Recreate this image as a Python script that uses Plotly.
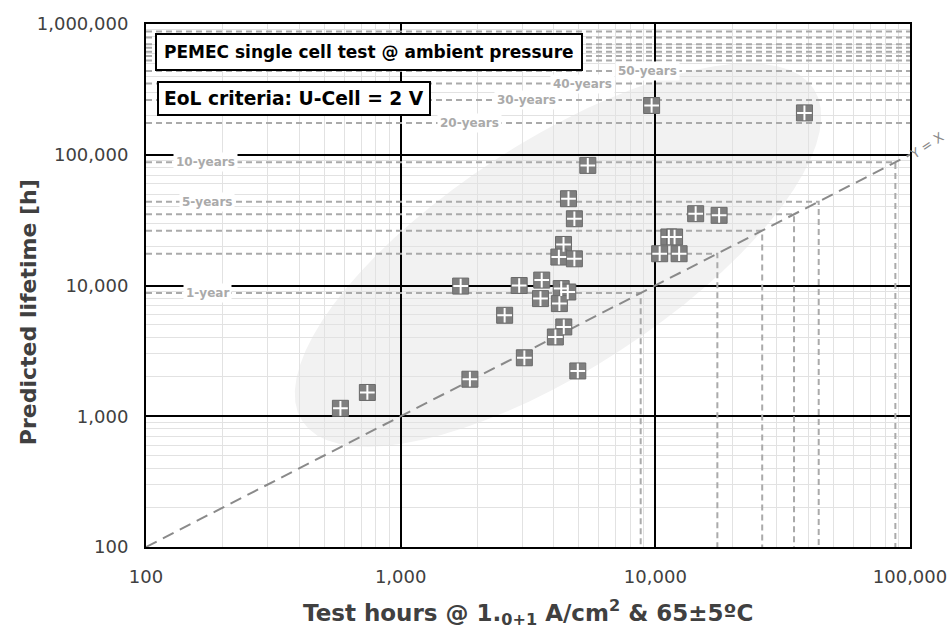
import math
import plotly.graph_objects as go

# Test results: hours on test vs. extrapolated lifetime at the 2 V end-of-life limit
test_hours = [580, 740, 1720, 1870, 2560, 2920, 3060, 3580, 3540, 4360, 4180, 4810,
              4270, 4530, 4200, 4370, 4050, 4960, 4560, 4810, 5430, 9670, 38500,
              14400, 17800, 11300, 11900, 10400, 12400]
predicted_lifetime = [1150, 1520, 9900, 1920, 5920, 10000, 2800, 11000, 7940, 20600, 16500, 16000,
                      9470, 8920, 7270, 4820, 4040, 2220, 46100, 32400, 82900, 238000, 209000,
                      35400, 34400, 23500, 23500, 17500, 17500]

# Lifetime reference levels, in years of continuous operation
ref_years = [1, 2, 3, 4, 5, 10, 20, 30, 40, 50, 60, 65, 70, 75, 80, 90, 100]
year_labels = {1: "1-year", 5: "5-years", 10: "10-years", 20: "20-years",
               30: "30-years", 40: "40-years", 50: "50-years"}
HOURS_PER_YEAR = 8760

x_ticks = [100, 1000, 10000, 100000]
x_tick_text = ["100", "1,000", "10,000", "100,000"]
y_ticks = [100, 1000, 10000, 100000, 1000000]
y_tick_text = ["100", "1,000", "10,000", "100,000", "1,000,000"]

X_MIN, X_MAX = 100, 100000
Y_MIN = 100

FONT = "DejaVu Sans"
TEXT_DARK = "#404040"
REF_GREY = "#aaaaaa"

# where each year label sits along the x axis (log10 of hours)
label_x = {1: 2.24, 5: 2.24, 10: 2.235, 20: 3.271, 30: 3.494, 40: 3.714, 50: 3.969}

fig = go.Figure()

# Reference lifetime lines: horizontal to the Y = X diagonal, then down to the x axis
ref_x, ref_y = [], []
for yr in ref_years:
    h = yr * HOURS_PER_YEAR
    if h < X_MAX:
        ref_x += [X_MIN, h, h, None]
        ref_y += [h, h, Y_MIN, None]
    else:
        ref_x += [X_MIN, X_MAX, None]
        ref_y += [h, h, None]
fig.add_trace(go.Scatter(x=ref_x, y=ref_y, mode="lines", hoverinfo="skip",
                         line=dict(color=REF_GREY, width=2, dash="6px,4px"),
                         showlegend=False))

# Y = X diagonal
fig.add_trace(go.Scatter(x=[X_MIN, X_MAX], y=[X_MIN, X_MAX], mode="lines", hoverinfo="skip",
                         line=dict(color="#8a8a8a", width=2, dash="12px,7px"),
                         showlegend=False))

# Data markers: grey square with a white cross
fig.add_trace(go.Scatter(x=test_hours, y=predicted_lifetime, mode="markers", showlegend=False,
                         marker=dict(symbol="square", size=16, color="#7f7f7f",
                                     line=dict(color="#6a6a6a", width=1))))
fig.add_trace(go.Scatter(x=test_hours, y=predicted_lifetime, mode="markers", showlegend=False,
                         hoverinfo="skip",
                         marker=dict(symbol="cross-thin", size=10.5,
                                     line=dict(color="white", width=2))))

# Shaded envelope around the data cloud (drawn beneath the grid)
PLOT_W, PLOT_H = 764, 523
cx, cy = 412, 292          # centre, px from the plot's lower-left corner
ra, rb = 305, 114          # semi-axes, px
ang = math.radians(33)
pts = []
for i in range(73):
    t = 2 * math.pi * i / 72
    px = cx + ra * math.cos(t) * math.cos(ang) - rb * math.sin(t) * math.sin(ang)
    py = cy + ra * math.cos(t) * math.sin(ang) + rb * math.sin(t) * math.cos(ang)
    pts.append(f"{px / PLOT_W:.4f},{py / PLOT_H:.4f}")
fig.add_shape(type="path", path="M" + " L".join(pts) + " Z", xref="x domain", yref="y domain",
              fillcolor="#f2f2f2", line=dict(width=0), layer="below")

annotations = []
for yr, txt in year_labels.items():
    annotations.append(dict(x=label_x[yr], y=math.log10(yr * HOURS_PER_YEAR), xref="x", yref="y",
                            xanchor="center", yanchor="middle",
                            text=f"<b>{txt}</b>", showarrow=False, bgcolor="white", borderpad=2,
                            font=dict(family=FONT, size=12, color=REF_GREY)))

annotations += [
    dict(x=9 / PLOT_W, y=(PLOT_H - 9) / PLOT_H, xref="paper", yref="paper",
         xanchor="left", yanchor="top", showarrow=False,
         text="<b>PEMEC single cell test @ ambient pressure</b>",
         bgcolor="white", bordercolor="black", borderwidth=2, borderpad=7,
         font=dict(family=FONT, size=17, color="black")),
    dict(x=11 / PLOT_W, y=(PLOT_H - 57) / PLOT_H, xref="paper", yref="paper",
         xanchor="left", yanchor="top", showarrow=False,
         text="<b>EoL criteria: U-Cell = 2 V</b>",
         bgcolor="white", bordercolor="black", borderwidth=2, borderpad=5,
         font=dict(family=FONT, size=18.7, color="black")),
    dict(x=1.022, y=0.768, xref="paper", yref="paper", xanchor="center", yanchor="middle",
         showarrow=False, text="Y = X",
         textangle=-33, font=dict(family=FONT, size=13, color="#8a8a8a")),
    dict(x=0.5, y=-0.126, xref="paper", yref="paper", xanchor="center", yanchor="middle",
         showarrow=False,
         text="<b>Test hours @ 1.<sub>0+1</sub> A/cm<sup>2</sup> & 65±5ºC</b>",
         font=dict(family=FONT, size=23, color=TEXT_DARK)),
    dict(x=-0.1545, y=0.449, xref="paper", yref="paper", xanchor="center", yanchor="middle",
         showarrow=False, textangle=-90,
         text="<b>Predicted lifetime [h]</b>",
         font=dict(family=FONT, size=22, color=TEXT_DARK)),
]

axis_common = dict(type="log", showgrid=True, gridcolor="black", gridwidth=1.5,
                   minor=dict(showgrid=True, gridcolor="#e2e2e2", gridwidth=1, dtick="D1"),
                   showline=True, mirror=True, linecolor="black", linewidth=2,
                   ticks="", zeroline=False, automargin=False,
                   tickfont=dict(family=FONT, size=18, color=TEXT_DARK))

fig.update_xaxes(**axis_common, range=[2, 5], tickvals=x_ticks, ticktext=x_tick_text,
                 ticklabelstandoff=12)
fig.update_yaxes(**axis_common, range=[2, 6], tickvals=y_ticks, ticktext=y_tick_text,
                 ticklabelstandoff=12)

fig.update_layout(width=949, height=630, margin=dict(l=146, r=39, t=24, b=83),
                  plot_bgcolor="white", paper_bgcolor="white",
                  annotations=annotations, showlegend=False,
                  font=dict(family=FONT, color=TEXT_DARK))

fig.write_html("out.html")
